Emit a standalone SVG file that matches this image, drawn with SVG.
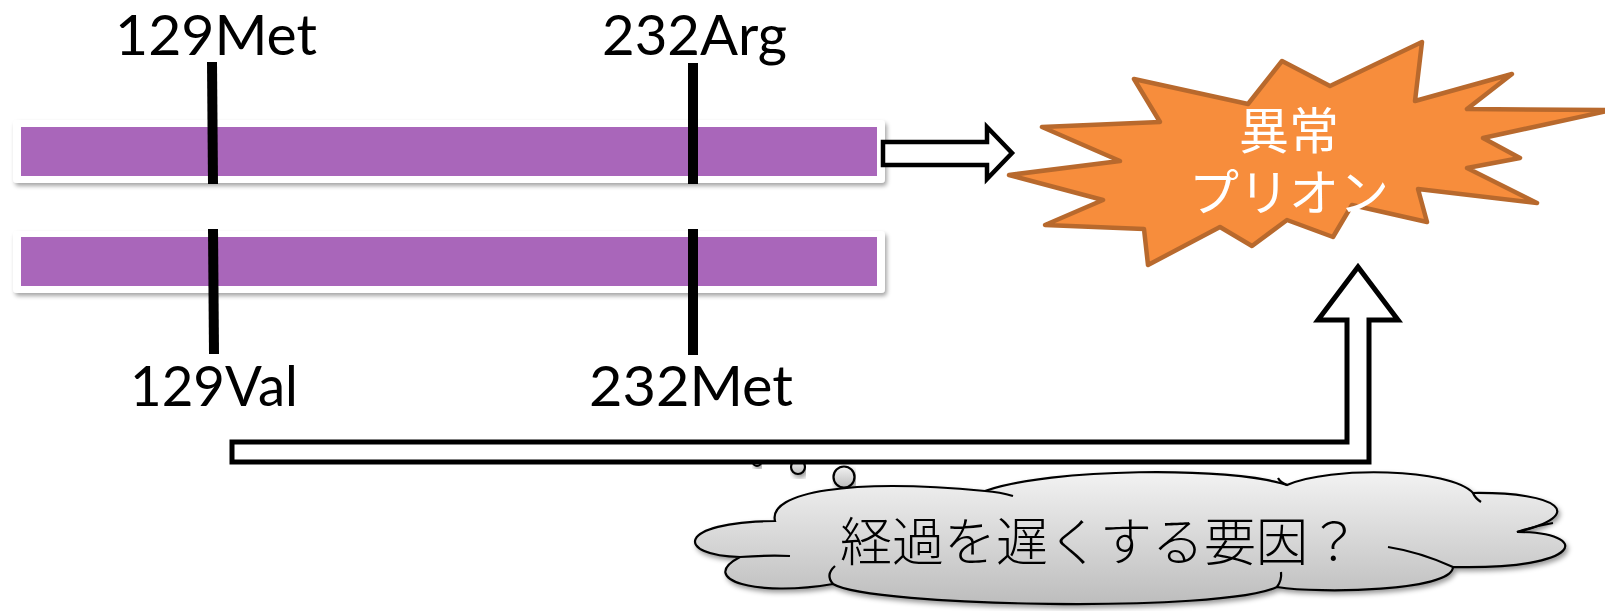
<svg xmlns="http://www.w3.org/2000/svg" width="1605" height="611" viewBox="0 0 1605 611">
  <style>
    .lbl { font-family: Lato, "Liberation Sans", sans-serif; font-size: 56px; fill: #000; }
    .jp { font-family: "Noto Sans CJK JP", "Noto Sans", sans-serif; text-anchor: middle; }
    .bar-frame { fill: #fff; filter: url(#softShadow); }
    .bar-fill { fill: #a966ba; }
    .site { stroke: #000; stroke-width: 10; }
    .block-arrow { fill: #fff; stroke: #000; stroke-linejoin: miter; }
    .cloud { fill: url(#cloudGrad); stroke: #000; stroke-width: 2.2; }
    .cloud-line { fill: none; stroke: #000; stroke-width: 2.2; }
  </style>
  <defs>
    <filter id="softShadow" x="-5%" y="-20%" width="110%" height="160%">
      <feDropShadow dx="2" dy="3" stdDeviation="2" flood-color="#000" flood-opacity="0.35"/>
    </filter>
    <filter id="cloudShadow" x="-5%" y="-20%" width="110%" height="150%">
      <feDropShadow dx="2" dy="3" stdDeviation="2.5" flood-color="#000" flood-opacity="0.4"/>
    </filter>
    <linearGradient id="cloudGrad" x1="0" y1="0" x2="0" y2="1">
      <stop offset="0" stop-color="#f2f2f2"/>
      <stop offset="1" stop-color="#bdbdbd"/>
    </linearGradient>
  </defs>

  <!-- two alleles as bars -->
  <g id="allele-top">
    <rect class="bar-frame" x="13" y="120" width="872" height="63" rx="4"/>
    <rect class="bar-fill" x="21" y="127" width="856" height="49"/>
  </g>
  <g id="allele-bottom">
    <rect class="bar-frame" x="13" y="231" width="872" height="62" rx="4"/>
    <rect class="bar-fill" x="21" y="237" width="856" height="49"/>
  </g>

  <!-- codon markers -->
  <g id="site-129">
    <line class="site" x1="212" y1="62" x2="213" y2="184"/>
    <line class="site" x1="213" y1="229" x2="214" y2="354"/>
    <text class="lbl" x="115" y="55" textLength="202" lengthAdjust="spacingAndGlyphs">129Met</text>
    <text class="lbl" x="130" y="406" textLength="168" lengthAdjust="spacingAndGlyphs">129Val</text>
  </g>
  <g id="site-232">
    <line class="site" x1="693" y1="63" x2="693" y2="184"/>
    <line class="site" x1="693" y1="229" x2="693" y2="355"/>
    <text class="lbl" x="602" y="55" textLength="185" lengthAdjust="spacingAndGlyphs">232Arg</text>
    <text class="lbl" x="589" y="406" textLength="204" lengthAdjust="spacingAndGlyphs">232Met</text>
  </g>

  <!-- abnormal prion burst -->
  <g id="prion-burst">
    <polygon fill="#f78d3c" stroke="#b8692d" stroke-width="4.5" stroke-linejoin="round"
      points="1134,79 1248,104 1282,61 1330,86 1422,42 1415,101 1512,74 1467,109 1612,110 1483,138 1520,158 1467,168 1537,203 1418,189 1427,222 1352,205 1333,237 1287,220 1252,246 1220,227 1148,265 1144,229 1045,225 1103,200 1009,175 1120,161 1042,127 1160,122"/>
    <text class="jp" font-size="50" fill="#fff"><tspan x="1289" y="149">異常</tspan><tspan x="1289" y="211">プリオン</tspan></text>
  </g>

  <!-- thought cloud -->
  <g id="slowing-factor">
    <circle class="cloud" cx="757" cy="462" r="4" filter="url(#cloudShadow)"/>
    <circle class="cloud" cx="798" cy="467" r="7" filter="url(#cloudShadow)"/>
    <circle class="cloud" cx="844" cy="477" r="10.5" filter="url(#cloudShadow)"/>
    <path class="cloud" filter="url(#cloudShadow)" d="M 775,521
      C 768,492 850,478 985,491
      C 1050,468 1230,466 1287,485
      C 1330,466 1450,468 1473,493
      C 1560,492 1588,515 1517,532
      C 1592,532 1586,570 1453,567
      C 1452,591 1320,594 1277,587
      C 1222,613 872,607 833,584
      C 758,597 696,580 740,557
      C 676,556 674,522 775,521 Z"/>
    <path class="cloud-line" d="M 740,557 Q 768,555 790,556"/>
    <path class="cloud-line" d="M 833,584 Q 825,575 835,566"/>
    <path class="cloud-line" d="M 985,491 Q 1000,492 1013,496"/>
    <path class="cloud-line" d="M 1287,485 Q 1280,482 1278,478"/>
    <path class="cloud-line" d="M 1473,493 Q 1475,498 1481,502"/>
    <path class="cloud-line" d="M 1517,532 Q 1535,526 1553,523"/>
    <path class="cloud-line" d="M 1453,567 Q 1420,552 1388,547"/>
    <path class="cloud-line" d="M 1277,587 Q 1282,580 1281,572"/>
    <text class="jp" x="1100" y="561" font-size="52" font-weight="300" fill="#000">経過を遅くする要因？</text>
  </g>

  <!-- connectors -->
  <g id="connectors">
    <path class="block-arrow" stroke-width="4.5" d="M 883,142 L 987,142 L 987,127 L 1012,153 L 987,179 L 987,165 L 883,165 Z"/>
    <path class="block-arrow" stroke-width="5" d="M 232,442 L 1347,442 L 1347,320 L 1318,320 L 1358,267 L 1398,320 L 1369,320 L 1369,462 L 232,462 Z"/>
  </g>
</svg>
